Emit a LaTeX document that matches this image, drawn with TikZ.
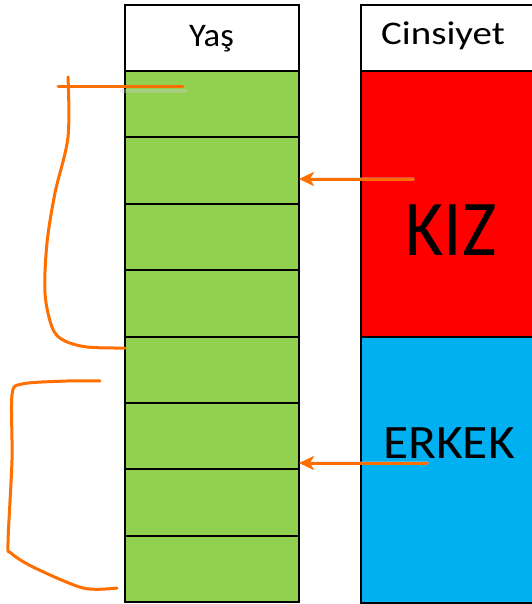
\documentclass[tikz,border=0pt]{standalone}
\usepackage{fontspec}
\setmainfont{Carlito}
\usepackage{graphicx}
\usetikzlibrary{arrows.meta}
\definecolor{cgreen}{HTML}{92D050}
\definecolor{cred}{HTML}{FF0000}
\definecolor{cblue}{HTML}{00B0F0}
\definecolor{corange}{HTML}{FF6F00}
\tikzset{
  cell/.style={draw=black, line width=1.9pt, fill=cgreen, minimum width=174pt,
    minimum height=66.4pt, anchor=north west, inner sep=0pt, outer sep=0pt},
  gbox/.style={draw=black, line width=1.9pt, minimum width=190pt,
    anchor=north west, inner sep=0pt, outer sep=0pt},
  lbl/.style={anchor=base, inner sep=0pt, text=black},
  pen/.style={draw=corange, line width=3pt, line cap=round, line join=round},
  shade/.style={draw=black!20, line width=4pt, line cap=round, line join=round, opacity=0.35},
  tip/.style={-{Stealth[length=15pt,width=14pt,inset=4pt]}}
}
\begin{document}
\begin{tikzpicture}[x=1pt,y=-1pt]
\useasboundingbox[fill=white] (0,0) rectangle (531,604);
% left column
\node[cell, fill=white] (yh) at (125,5) {};
\foreach \i in {1,...,8}
  \node[cell] (y\i) at (125,{71+(\i-1)*66.4}) {};
% right column
\node[gbox, fill=white, minimum height=66.4pt] (ch) at (361,5) {};
\node[gbox, fill=cred, minimum height=265.6pt] (kiz) at (361,71.4) {};
\node[gbox, fill=cblue, minimum height=265.6pt] (erkek) at (361,337) {};
% labels
\node[lbl, font=\fontsize{33}{33}\selectfont] (tyas) at (211.5,47) {\scalebox{1.05}[1]{Yaş}};
\node[lbl, font=\fontsize{33}{33}\selectfont] (tcins) at (443,45) {\scalebox{1.18}[1]{Cinsiyet}};
\node[lbl, font=\fontsize{79}{80}\selectfont] (tkiz) at (451,255) {\scalebox{0.93}[1]{KIZ}};
\node[lbl, font=\fontsize{48}{48}\selectfont] (terkek) at (449,458) {\scalebox{1.07}[1]{ERKEK}};
% arrow coordinates
\coordinate (a1s) at (413,179);
\coordinate (a1e) at (y2.east |- a1s);
\coordinate (a2s) at (427,463);
\coordinate (a2e) at (y7.east |- a2s);
% shadows
\begin{scope}[shift={(2,4)}]
\draw[shade] (a1s) -- ([xshift=14pt]a1e);
\draw[shade] (a2s) -- ([xshift=14pt]a2e);
\draw[shade] (120,87) -- (183,87);
\end{scope}
% arrows
\draw[pen, tip] (a1s) -- (a1e);
\draw[pen, tip] (a2s) -- (a2e);
% top bracket
\coordinate (b1s) at (68,77);
\coordinate (b1e) at (y5.west |- 0,348);
\draw[pen] (58,87) -- (183,87);
\draw[pen] plot[smooth, tension=0.55] coordinates {(b1s) (68,137) (55,193) (47,243) (45,293) (52,327) (63,340) (87,347) (b1e)};
% bottom bracket
\coordinate (b2s) at (100,381);
\coordinate (b2e) at (117,588);
\draw[pen] plot[smooth, tension=0.5] coordinates {(b2s) (67,381) (22,384) (12,395) (12,460) (8,543) (11,553) (33,567) (83,588) (b2e)};
\end{tikzpicture}
\end{document}
